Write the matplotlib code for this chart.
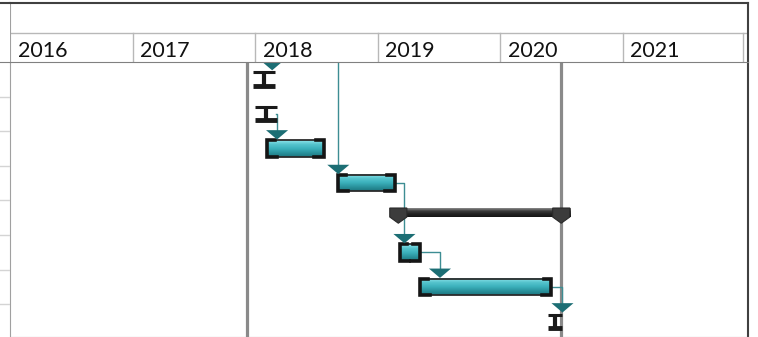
import numpy as np
import matplotlib.pyplot as plt
from matplotlib.patches import Polygon, Rectangle
from matplotlib.colors import LinearSegmentedColormap

# ---- data (x in years, rows counted from the top) ----
years = [2016, 2017, 2018, 2019, 2020, 2021]

bar_rows = [2, 3, 5, 6]
bar_start = [2018.10, 2018.68, 2019.18, 2019.35]
bar_end = [2018.56, 2019.14, 2019.35, 2020.42]

ms_rows = [0, 1, 7]
ms_start = [2017.98, 2018.00, 2020.39]
ms_end = [2018.16, 2018.18, 2020.51]

summary_row = 4
summary_start = 2019.10
summary_end = 2020.57

arrow_rows = [0, 2, 3, 5, 6, 7]
arrow_x = [2018.14, 2018.18, 2018.68, 2019.22, 2019.51, 2020.51]

link_from_row = [1, 3, 5, 6]
link_from_x = [2018.17, 2019.14, 2019.35, 2020.42]
link_to_row = [2, 5, 6, 7]
link_to_x = [2018.18, 2019.22, 2019.51, 2020.51]

top_link_x = 2018.68   # link coming from a task above the visible rows
top_link_row = 3

grey_lines = [2017.935, 2020.50]

# ---- layout ----
W, H = 758, 337
px_year = 122.5
row_px = 34.6
x0, x1 = 2016, 2016 + 738 / px_year
row_top, row_bot = -0.5, -0.5 + 275 / row_px

fig = plt.figure(figsize=(W / 100, H / 100), dpi=100)
ax = fig.add_axes([10 / W, 0, 738 / W, 275 / H])
hax = fig.add_axes([10 / W, 275 / H, 738 / W, 59 / H])
lax = fig.add_axes([0, 0, 10 / W, 275 / H])
lhax = fig.add_axes([0, 275 / H, 10 / W, 59 / H])

teal = LinearSegmentedColormap.from_list('teal', ['#8fe4ea', '#55c4cd', '#3cb1bc', '#2b949e', '#1d7780'])
dark = LinearSegmentedColormap.from_list('dark', ['#8a8a8a', '#3a3a3a', '#222222', '#151515'])
grad = np.linspace(0, 1, 40).reshape(-1, 1)

# grey vertical markers
for gx in grey_lines:
    ax.axvline(gx, color='#8a8a8a', lw=2.3, zorder=1)

# link lines
link_col = '#3d8d93'
ax.plot([top_link_x, top_link_x], [row_top, top_link_row - 0.52], color=link_col, lw=1, zorder=2)
for fr, fx, tr, tx in zip(link_from_row, link_from_x, link_to_row, link_to_x):
    ax.plot([fx, tx, tx], [fr, fr, tr - 0.52], color=link_col, lw=1, zorder=2)

# task bars
h = 0.48
cap = 0.06
for r, s, e in zip(bar_rows, bar_start, bar_end):
    ax.imshow(grad, extent=(s, e, r + h / 2, r - h / 2), cmap=teal, aspect='auto', zorder=3)
    ax.add_patch(Rectangle((s, r - h / 2), e - s, h, fill=False, edgecolor='#2b2b2b', lw=1.3, zorder=4))
    ax.plot([s + cap, s, s, s + cap * 1.3], [r - h / 2, r - h / 2, r + h / 2, r + h / 2],
            color='#151515', lw=2.6, solid_joinstyle='miter', zorder=5)
    ax.plot([e - cap, e, e, e - cap * 1.3], [r - h / 2, r - h / 2, r + h / 2, r + h / 2],
            color='#151515', lw=2.6, solid_joinstyle='miter', zorder=5)

# tiny tasks ("I" shapes)
for r, s, e in zip(ms_rows, ms_start, ms_end):
    m = (s + e) / 2
    ax.plot([s, e], [r - 0.2, r - 0.2], color='#1a1a1a', lw=2.2, solid_capstyle='butt', zorder=5)
    ax.plot([m, m], [r - 0.2, r + 0.2], color='#1a1a1a', lw=3, solid_capstyle='butt', zorder=5)
    ax.plot([s, e], [r + 0.19, r + 0.19], color='#1a1a1a', lw=3.5, solid_capstyle='butt', zorder=5)

# summary bar
sr = summary_row
st, sb, tip = sr - 0.28, sr - 0.02, sr + 0.16
ax.imshow(grad, extent=(summary_start, summary_end, sb, st), cmap=dark, aspect='auto', zorder=3)
cw = 0.14
for cx in [summary_start, summary_end - cw]:
    ax.add_patch(Polygon([(cx, st), (cx + cw, st), (cx + cw, sb), (cx + cw / 2, tip), (cx, sb)],
                         facecolor='#3c3c3c', edgecolor='#2a2a2a', lw=0.8, zorder=5))

# arrowheads
for r, x in zip(arrow_rows, arrow_x):
    ax.add_patch(Polygon([(x - 0.09, r - 0.53), (x + 0.09, r - 0.53), (x, r - 0.26)],
                         facecolor='#1c6e74', edgecolor='none', zorder=6))

ax.set_xlim(x0, x1)
ax.set_ylim(row_bot, row_top)
ax.set_xticks([])
ax.set_yticks([])
ax.spines['top'].set_visible(False)
ax.spines['left'].set_color('#a0a0a0')
ax.spines['bottom'].set_color('#a0a0a0')
ax.spines['right'].set_color('#404040')
ax.spines['right'].set_linewidth(1.5)

# header with years
hax.set_xlim(x0, x1)
hax.set_ylim(0, 1)
hax.set_xticks([])
hax.set_yticks([])
hax.axhline(0.49, color='#b8b8b8', lw=1)
for y in years:
    if y > years[0]:
        hax.plot([y, y], [0, 0.49], color='#b8b8b8', lw=1)
    hax.text(y + 0.065, 0.08, str(y), fontsize=15.5, family='Lato', color='#111111', va='baseline')
hax.plot([years[-1] + 1 - 0.02] * 2, [0, 0.49], color='#b8b8b8', lw=1)
hax.spines['top'].set_color('#404040')
hax.spines['top'].set_linewidth(1.5)
hax.spines['right'].set_color('#404040')
hax.spines['right'].set_linewidth(1.5)
hax.spines['left'].set_color('#a0a0a0')
hax.spines['bottom'].set_color('#808080')

# left strip: edge of the task table
lax.set_ylim(row_bot, row_top)
lax.set_xlim(0, 1)
for k in range(7):
    lax.axhline(k + 0.5, color='#d4d4d4', lw=1)
lax.axis('off')

lhax.set_xlim(0, 1)
lhax.set_ylim(0, 1)
lhax.set_xticks([])
lhax.set_yticks([])
for sp in ['left', 'right']:
    lhax.spines[sp].set_visible(False)
lhax.spines['top'].set_color('#404040')
lhax.spines['top'].set_linewidth(1.5)
lhax.spines['bottom'].set_color('#808080')

fig.savefig('out.png', dpi=100, facecolor='white')
